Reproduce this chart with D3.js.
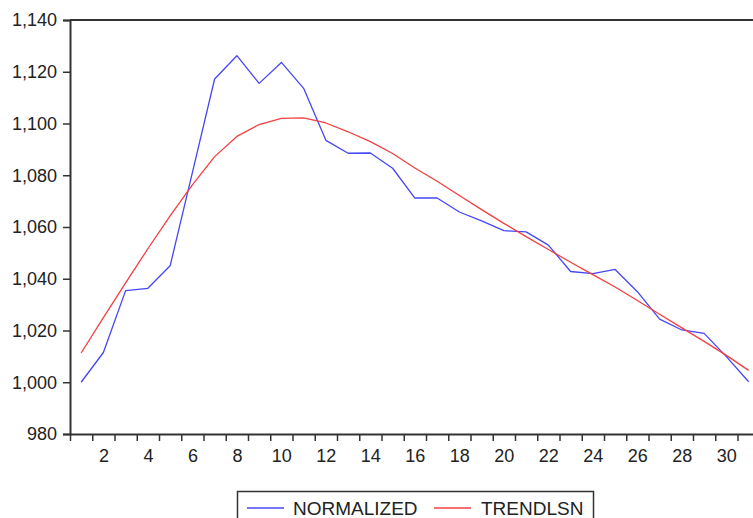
<!DOCTYPE html>
<html>
<head>
<meta charset="utf-8">
<script src="https://cdn.jsdelivr.net/npm/d3@7"></script>
<style>
  html, body { margin: 0; padding: 0; background: #fff; overflow: hidden; }
  svg { display: block; font-family: "Liberation Sans", Arial, sans-serif; }
</style>
</head>
<body>
<svg id="chart" width="753" height="518"></svg>
<script>
// Observation index 1..31
const periods = d3.range(1, 32);

// Normalized series
const normalized = [
  1000.0, 1011.5, 1035.4, 1036.3, 1045.0, 1081.0, 1117.2, 1126.2, 1115.5, 1123.6,
  1113.6, 1093.5, 1088.5, 1088.6, 1082.7, 1071.2, 1071.2, 1065.8, 1062.4, 1058.6,
  1058.1, 1053.0, 1042.8, 1042.0, 1043.6, 1035.0, 1024.4, 1020.2, 1018.9, 1009.9,
  1000.2
];

// Least-squares trend
const trendlsn = [
  1011.3, 1025.0, 1038.4, 1051.6, 1064.3, 1076.3, 1087.2, 1095.0, 1099.6, 1102.0,
  1102.2, 1100.2, 1096.8, 1093.0, 1088.4, 1082.8, 1077.7, 1072.2, 1066.7, 1061.4,
  1056.3, 1051.3, 1046.4, 1041.6, 1036.8, 1031.6, 1026.3, 1021.0, 1015.8, 1010.4,
  1004.6
];

const yTicks = [980, 1000, 1020, 1040, 1060, 1080, 1100, 1120, 1140];
const xLabels = d3.range(2, 31, 2);
const seriesNames = ["NORMALIZED", "TRENDLSN"];
const seriesColors = ["#4646f5", "#f24040"];

const svg = d3.select("#chart");
const plotLeft = 70, plotTop = 20, plotBottom = 434;

const x = d3.scaleLinear().domain([0.5, 31.5]).range([plotLeft, plotLeft + 31 * 22.25]);
const y = d3.scaleLinear().domain([980, 1140]).range([plotBottom, plotTop]);

const axisColor = "#333";

// top frame line
svg.append("line")
  .attr("x1", plotLeft).attr("x2", 753)
  .attr("y1", plotTop).attr("y2", plotTop)
  .attr("stroke", axisColor).attr("stroke-width", 2);

// y axis
const yAxis = svg.append("g")
  .attr("transform", `translate(${plotLeft},0)`)
  .call(d3.axisLeft(y).tickValues(yTicks).tickFormat(d3.format(",")).tickSize(7).tickPadding(6));
yAxis.select(".domain").attr("stroke", axisColor).attr("stroke-width", 2);
yAxis.selectAll(".tick line").attr("stroke", axisColor).attr("stroke-width", 1.5);
yAxis.selectAll(".tick text")
  .attr("fill", "#222").attr("font-size", "18px")
  .attr("font-family", "Liberation Sans, Arial, sans-serif");

// x axis: tick marks at the boundaries between observations
const tickPositions = d3.range(0.5, 32, 1);
const xAxis = svg.append("g")
  .attr("transform", `translate(0,${plotBottom})`)
  .call(d3.axisBottom(x).tickValues(tickPositions).tickFormat("").tickSize(7).tickSizeOuter(0));
xAxis.select(".domain").attr("stroke", axisColor).attr("stroke-width", 2)
  .attr("d", `M${plotLeft},0.5H753`);
xAxis.selectAll(".tick line").attr("stroke", axisColor).attr("stroke-width", 1.5);

// x labels centred on even observations
const xLab = svg.append("g")
  .attr("transform", `translate(0,${plotBottom})`)
  .call(d3.axisBottom(x).tickValues(xLabels).tickFormat(d3.format("d")).tickSize(0).tickPadding(15));
xLab.select(".domain").remove();
xLab.selectAll(".tick text")
  .attr("fill", "#222").attr("font-size", "18px")
  .attr("font-family", "Liberation Sans, Arial, sans-serif");

// series lines
const line = d3.line().x((d, i) => x(periods[i])).y(d => y(d));
[normalized, trendlsn].forEach((vals, k) => {
  svg.append("path")
    .datum(vals)
    .attr("fill", "none")
    .attr("stroke", seriesColors[k])
    .attr("stroke-width", 1.3)
    .attr("stroke-linejoin", "round")
    .attr("d", line);
});

// legend
const legend = svg.append("g");
legend.append("rect")
  .attr("x", 237.5).attr("y", 491.5)
  .attr("width", 356).attr("height", 40)
  .attr("fill", "none").attr("stroke", axisColor).attr("stroke-width", 1.5);
const legendItems = [
  { x1: 247, x2: 284, tx: 293 },
  { x1: 434, x2: 471, tx: 481 }
];
legendItems.forEach((it, k) => {
  legend.append("line")
    .attr("x1", it.x1).attr("x2", it.x2)
    .attr("y1", 508).attr("y2", 508)
    .attr("stroke", seriesColors[k]).attr("stroke-width", 1.5);
  legend.append("text")
    .attr("x", it.tx).attr("y", 515)
    .attr("font-size", "19px").attr("fill", "#222")
    .text(seriesNames[k]);
});
</script>
</body>
</html>
